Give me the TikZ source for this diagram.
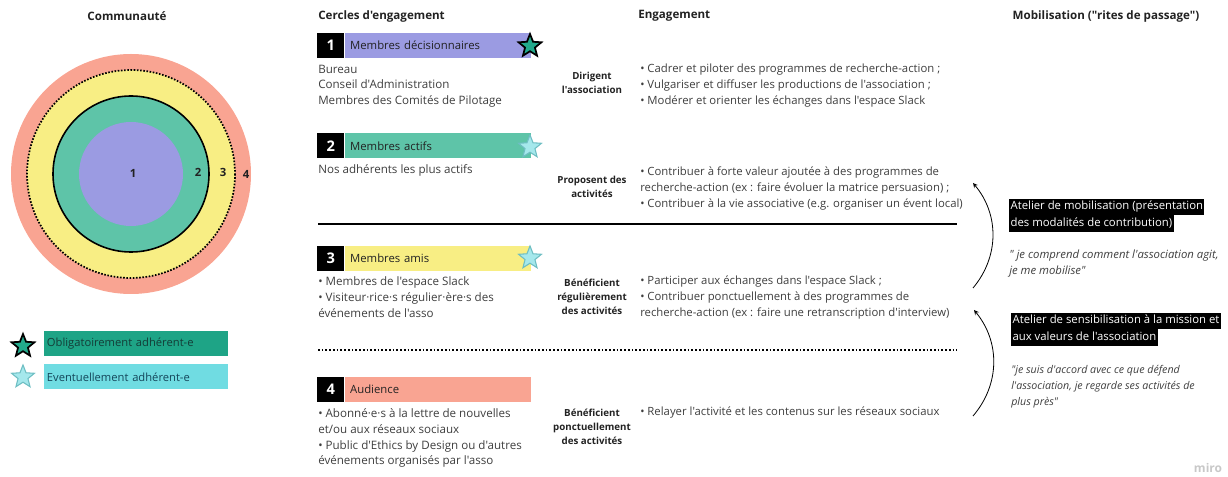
\documentclass[tikz,border=0pt]{standalone}
\usepackage{fontspec}
\setmainfont{Open Sans}[Ligatures=TeXOff]
\usetikzlibrary{shapes.geometric}

\definecolor{cpurple}{RGB}{155,155,226}
\definecolor{cteal}{RGB}{94,196,168}
\definecolor{cyellow}{RGB}{248,238,132}
\definecolor{csalmon}{RGB}{249,164,146}
\definecolor{legdark}{RGB}{30,164,134}
\definecolor{leglight}{RGB}{112,220,226}
\definecolor{stardark}{RGB}{34,170,140}
\definecolor{starlight}{RGB}{165,232,236}
\definecolor{starline}{RGB}{110,190,195}
\definecolor{txtdark}{RGB}{34,34,34}
\definecolor{txtgray}{RGB}{62,62,62}

\begin{document}
\begin{tikzpicture}[%
      x=0.75pt, y=-0.75pt,
      title/.style={font=\bfseries\fontsize{8.7}{10}\selectfont, anchor=west, inner sep=0pt, text=txtdark},
      body/.style={font=\fontsize{8.7}{11.8}\selectfont, align=left, anchor=north west, inner sep=0pt, text=txtgray},
      engbody/.style={body, font=\fontsize{8.5}{11.8}\selectfont},
      quote/.style={body, font=\itshape\fontsize{8}{12.2}\selectfont},
      verb/.style={font=\bfseries\fontsize{7.3}{10.6}\selectfont, align=center, inner sep=0pt, text=txtdark},
      ring/.style={font=\bfseries\fontsize{8.5}{10}\selectfont, inner sep=0pt, text=txtdark},
      numbox/.style={fill=black, text=white, font=\bfseries\fontsize{11}{11}\selectfont, minimum width=20.25pt, minimum height=18.75pt, inner sep=0pt, anchor=west},
      bar/.style={font=\fontsize{8.5}{10}\selectfont, text=txtdark, text width=132pt, align=left, inner xsep=4pt, minimum height=18.75pt, anchor=west},
      legbox/.style={font=\fontsize{8.4}{10}\selectfont, text width=134pt, align=left, inner xsep=2pt, minimum height=18.75pt, anchor=north west},
      wshop/.style={fill=black, text=white, font=\fontsize{8.5}{10}\selectfont, inner xsep=1pt, inner ysep=1.5pt, text height=7pt, text depth=2.5pt, anchor=west},
      darkstar/.style={star, star points=5, star point ratio=2.3, minimum size=18pt, inner sep=0pt, fill=stardark, draw=black, line width=1.3pt},
      lightstar/.style={star, star points=5, star point ratio=2.3, minimum size=18pt, inner sep=0pt, fill=starlight, draw=starline, line width=0.8pt},
      arc/.style={-stealth, line width=0.6pt, color=black},
      ]
      \useasboundingbox (0,0) rectangle (1228,477);

      % headers
      \node [title, anchor=center] (comm) at (127,16) {Communauté};
      \node [title] (cercles) at (318,16) {Cercles d'engagement};
      \node [title] (engag) at (638,16) {Engagement};
      \node [title, anchor=center] (mobil) at (1106,16) {Mobilisation ("rites de passage")};

      % community circles
      \fill [color=csalmon] (131,174) circle (120);
      \fill [color=cyellow] (131,174) circle (104);
      \draw [color=black, line width=1.3pt, dash pattern=on 1.2pt off 1.2pt] (131,174) circle (104);
      \filldraw [fill=cteal, draw=black, line width=1.2pt] (131,174) circle (78);
      \fill [color=cpurple] (131,174) circle (52);

      \node [ring] (c1) at (133,173) {1};
      \node [ring] (c2) at (198,172) {2};
      \node [ring] (c3) at (223,172) {3};
      \node [ring] (c4) at (246,174) {4};

      % legend
      \node [darkstar] (st1) at (23,346) {};
      \node [legbox, fill=legdark, text={rgb,255:red,20;green,60;blue,55}] (lg1) at (44,331) {Obligatoirement adhérent-e};
      \node [lightstar] (st2) at (23,377) {};
      \node [legbox, fill=leglight, text={rgb,255:red,20;green,70;blue,90}] (lg2) at (44,364) {Eventuellement adhérent-e};

      % circle 1
      \node [numbox] (n1) at (317,45.5) {1};
      \node [bar, fill=cpurple] (b1) at (n1.east) {Membres décisionnaires};
      \node [darkstar] (s1) at (530,46) {};
      \node [body] (t1) at (318,64.5) {Bureau\\Conseil d'Administration\\Membres des Comités de Pilotage};
      \node [verb] (v1) at (592,83) {Dirigent\\l'association};
      \node [engbody] (e1) at (640,64) {• Cadrer et piloter des programmes de recherche-action ;\\• Vulgariser et diffuser les productions de l'association ;\\• Modérer et orienter les échanges dans l'espace Slack};

      % circle 2
      \node [numbox] (n2) at (317,146) {2};
      \node [bar, fill=cteal] (b2) at (n2.east) {Membres actifs};
      \node [lightstar] (s2) at (530,147) {};
      \node [body] (t2) at (318,164.5) {Nos adhérents les plus actifs};
      \node [verb] (v2) at (592,187) {Proposent des\\activités};
      \node [engbody] (e2) at (640,167) {• Contribuer à forte valeur ajoutée à des programmes de\\recherche-action (ex : faire évoluer la matrice persuasion) ;\\• Contribuer à la vie associative (e.g. organiser un évent local)};

      \draw [color=black, line width=2pt] (318,224) -- (957,224);

      % circle 3
      \node [numbox] (n3) at (317,258.5) {3};
      \node [bar, fill=cyellow] (b3) at (n3.east) {Membres amis};
      \node [lightstar] (s3) at (530,258) {};
      \node [body] (t3) at (318,276.5) {• Membres de l'espace Slack\\• Visiteur·rice·s régulier·ère·s des\\événements de l'asso};
      \node [verb] (v3) at (592,297) {Bénéficient\\régulièrement\\des activités};
      \node [engbody] (e3) at (640,276) {• Participer aux échanges dans l'espace Slack ;\\• Contribuer ponctuellement à des programmes de\\recherche-action (ex : faire une retranscription d'interview)};

      \draw [color=black, line width=1.6pt, dash pattern=on 1.3pt off 1.5pt] (318,350) -- (957,350);

      % circle 4
      \node [numbox] (n4) at (317,389.5) {4};
      \node [bar, fill=csalmon] (b4) at (n4.east) {Audience};
      \node [body] (t4) at (318,408.5) {• Abonné·e·s à la lettre de nouvelles\\et/ou aux réseaux sociaux\\• Public d'Ethics by Design ou d'autres\\événements organisés par l'asso};
      \node [verb] (v4) at (592,427) {Bénéficient\\ponctuellement\\des activités};
      \node [engbody] (e4) at (640,407) {• Relayer l'activité et les contenus sur les réseaux sociaux};

      % rites de passage
      \coordinate (a1s) at (973,288);
      \coordinate (a1e) at (973,183);
      \coordinate (a2s) at (973,416);
      \coordinate (a2e) at (974,310);
      \draw [arc] (a1s) to[bend right=40] (a1e);
      \draw [arc] (a2s) to[bend right=40] (a2e);

      \node [wshop] (w1a) at (1009,207) {Atelier de mobilisation (présentation};
      \node [wshop] (w1b) at (1009,223.5) {des modalités de contribution)};
      \node [quote, font=\itshape\fontsize{8.5}{11.4}\selectfont] (q1) at (1009,250) {" je comprend comment l'association agit,\\je me mobilise"};

      \node [wshop] (w2a) at (1011,321) {Atelier de sensibilisation à la mission et};
      \node [wshop] (w2b) at (1011,337.5) {aux valeurs de l'association};
      \node [quote] (q2) at (1011,365) {"je suis d'accord avec ce que défend\\l'association, je regarde ses activités de\\plus près"};

      \node [font=\bfseries\fontsize{9}{10}\selectfont, text={rgb,255:red,200;green,200;blue,200}, inner sep=0pt] (miro) at (1208,468) {miro};
      \end{tikzpicture}
\end{document}
